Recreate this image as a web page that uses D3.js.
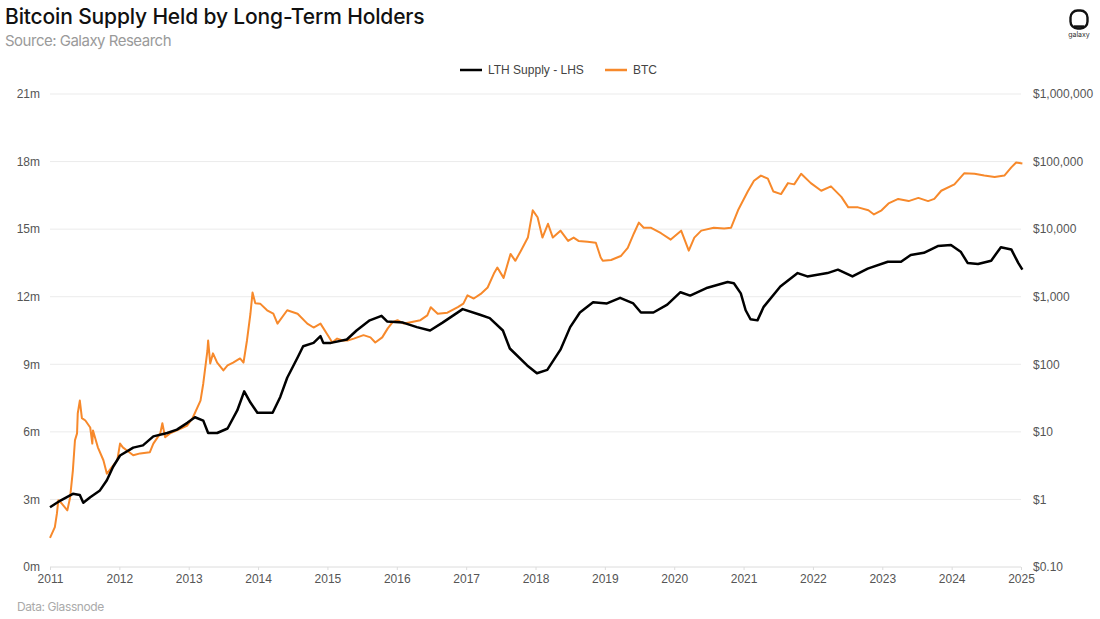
<!DOCTYPE html>
<html><head><meta charset="utf-8">
<script src="https://cdn.jsdelivr.net/npm/d3@7"></script>
<style>
body{margin:0;background:#fff;}
svg{display:block;}
</style></head>
<body>
<svg id="chart" width="1100" height="619"></svg>
<script>
// ---- data ----
const yearTicks = [2011,2012,2013,2014,2015,2016,2017,2018,2019,2020,2021,2022,2023,2024,2025];
const leftTicks = [0,3,6,9,12,15,18,21];
const leftTickLabels = ["0m","3m","6m","9m","12m","15m","18m","21m"];
const rightTicks = [0.1,1,10,100,1000,10000,100000,1000000];
const rightTickLabels = ["$0.10","$1","$10","$100","$1,000","$10,000","$100,000","$1,000,000"];
const seriesNames = ["LTH Supply - LHS","BTC"];

// LTH supply (millions BTC), decimal year
const lthYears = [2011.00,2011.15,2011.33,2011.43,2011.48,2011.58,2011.72,2011.82,2011.91,2012.01,2012.20,2012.34,2012.49,2012.69,2012.83,2012.98,2013.09,2013.21,2013.28,2013.41,2013.56,2013.70,2013.80,2013.89,2013.99,2014.21,2014.32,2014.42,2014.57,2014.65,2014.80,2014.90,2014.94,2015.05,2015.28,2015.42,2015.61,2015.78,2015.86,2016.09,2016.29,2016.48,2016.66,2016.95,2017.20,2017.34,2017.53,2017.63,2017.88,2018.02,2018.17,2018.36,2018.50,2018.64,2018.83,2019.03,2019.22,2019.41,2019.52,2019.70,2019.90,2020.09,2020.23,2020.48,2020.77,2020.86,2020.96,2021.03,2021.10,2021.20,2021.29,2021.53,2021.78,2021.92,2022.21,2022.36,2022.57,2022.79,2023.08,2023.27,2023.41,2023.60,2023.80,2023.99,2024.13,2024.23,2024.38,2024.57,2024.71,2024.86,2024.96,2025.02];
const lthValues = [2.65,2.95,3.25,3.2,2.85,3.1,3.4,3.85,4.45,4.95,5.3,5.4,5.8,5.95,6.1,6.4,6.65,6.5,5.95,5.95,6.15,6.95,7.8,7.3,6.85,6.85,7.55,8.4,9.3,9.8,9.95,10.25,9.95,9.95,10.1,10.5,10.95,11.15,10.9,10.85,10.65,10.5,10.85,11.45,11.2,11.05,10.5,9.7,8.95,8.6,8.75,9.65,10.65,11.3,11.75,11.7,11.95,11.7,11.3,11.3,11.65,12.2,12.05,12.4,12.65,12.6,12.15,11.4,11.0,10.95,11.55,12.45,13.05,12.9,13.05,13.2,12.9,13.25,13.55,13.55,13.85,13.95,14.25,14.3,14.0,13.5,13.45,13.6,14.2,14.1,13.5,13.2];

// BTC price (USD), decimal year
const btcYears = [2011.00,2011.07,2011.10,2011.12,2011.17,2011.25,2011.29,2011.33,2011.36,2011.39,2011.40,2011.43,2011.46,2011.51,2011.58,2011.61,2011.62,2011.69,2011.77,2011.82,2011.87,2011.97,2012.01,2012.05,2012.11,2012.20,2012.30,2012.44,2012.49,2012.59,2012.62,2012.66,2012.73,2012.83,2012.98,2013.06,2013.17,2013.21,2013.27,2013.28,2013.31,2013.35,2013.41,2013.50,2013.56,2013.64,2013.74,2013.79,2013.84,2013.89,2013.92,2013.96,2014.03,2014.13,2014.22,2014.28,2014.42,2014.57,2014.71,2014.80,2014.90,2015.01,2015.07,2015.14,2015.22,2015.29,2015.38,2015.52,2015.62,2015.69,2015.79,2015.87,2015.94,2016.01,2016.10,2016.20,2016.34,2016.44,2016.49,2016.59,2016.73,2016.88,2016.96,2017.02,2017.11,2017.21,2017.31,2017.40,2017.45,2017.54,2017.64,2017.71,2017.79,2017.89,2017.96,2018.03,2018.10,2018.18,2018.25,2018.36,2018.47,2018.55,2018.62,2018.75,2018.87,2018.94,2018.97,2019.09,2019.23,2019.33,2019.42,2019.49,2019.56,2019.66,2019.81,2019.95,2020.10,2020.21,2020.29,2020.39,2020.57,2020.72,2020.82,2020.92,2021.06,2021.15,2021.25,2021.35,2021.43,2021.54,2021.64,2021.73,2021.83,2021.97,2022.12,2022.26,2022.41,2022.51,2022.65,2022.80,2022.88,2022.99,2023.09,2023.23,2023.38,2023.52,2023.66,2023.75,2023.85,2024.04,2024.18,2024.33,2024.47,2024.62,2024.76,2024.86,2024.93,2025.02];
const btcValues = [0.27,0.39,0.62,0.97,0.87,0.69,1.07,2.7,7.5,9.5,18.7,29,16,14.7,11.6,6.7,10.5,5.9,3.8,2.4,2.8,3.8,6.7,5.9,5.3,4.5,4.8,5.0,6.7,9.5,13.4,8.3,9.5,10.5,12.4,16.3,29,52,160,225,103,145,106,81,96,106,122,106,225,560,1150,800,790,630,560,400,630,560,400,350,400,265,210,240,225,225,240,270,250,210,250,340,420,450,400,420,450,530,700,560,580,700,790,1050,940,1100,1370,2200,2700,1900,4300,3400,4800,7500,19000,15000,7500,12000,7500,9500,6700,7500,6700,6500,6300,3800,3400,3500,4000,5300,8700,12500,10500,10500,8700,7000,9500,4800,7500,9500,10500,10200,10500,19000,36000,52000,62000,56000,36000,33000,48000,46000,66000,48000,37000,43000,30000,21000,21000,19000,16500,19000,24000,28000,26000,29000,26000,28000,37000,46000,67000,66000,62000,59000,62000,82000,97000,94000];

// ---- layout ----
const svg = d3.select("#chart");
const plot = {left:50, right:1021, top:94, bottom:567};
const x = d3.scaleLinear().domain([2011,2025]).range([plot.left, plot.right]);
const yL = d3.scaleLinear().domain([0,21]).range([plot.bottom, plot.top]);
const yR = d3.scaleLog().domain([0.1,1000000]).range([plot.bottom, plot.top]);
const axisFont = "'Liberation Sans', Arial, sans-serif";

// gridlines
svg.append("g").selectAll("line").data(leftTicks).join("line")
  .attr("x1", plot.left).attr("x2", plot.right)
  .attr("y1", d=>yL(d)).attr("y2", d=>yL(d))
  .attr("stroke", d=> d===0 ? "#dcdcdc" : "#ebebeb").attr("stroke-width", 1);

// bottom axis
const xAxis = d3.axisBottom(x).tickValues(yearTicks).tickFormat(d3.format("d")).tickSize(3).tickPadding(4);
const gx = svg.append("g").attr("transform", `translate(0,${plot.bottom})`).call(xAxis);
gx.select(".domain").remove();
gx.selectAll(".tick line").attr("stroke","#dcdcdc");
gx.selectAll(".tick text").attr("fill","#555").style("font-family",axisFont).style("font-size","12px");

// left axis
const yAxisL = d3.axisLeft(yL).tickValues(leftTicks).tickFormat((d,i)=>leftTickLabels[i]).tickSize(0).tickPadding(10);
const gl = svg.append("g").attr("transform", `translate(${plot.left},0)`).call(yAxisL);
gl.select(".domain").remove();
gl.selectAll(".tick text").attr("fill","#555").style("font-family",axisFont).style("font-size","12px");

// right axis
const yAxisR = d3.axisRight(yR).tickValues(rightTicks).tickFormat((d,i)=>rightTickLabels[i]).tickSize(0).tickPadding(12);
const gr = svg.append("g").attr("transform", `translate(${plot.right},0)`).call(yAxisR);
gr.select(".domain").remove();
gr.selectAll(".tick text").attr("fill","#555").style("font-family",axisFont).style("font-size","12px");

// lines
const btcData = btcYears.map((t,i)=>({t, v: btcValues[i]}));
const lthData = lthYears.map((t,i)=>({t, v: lthValues[i]}));
svg.append("path").datum(btcData)
  .attr("fill","none").attr("stroke","#f7892b").attr("stroke-width",2).attr("stroke-linejoin","round")
  .attr("d", d3.line().x(d=>x(d.t)).y(d=>yR(d.v)));
svg.append("path").datum(lthData)
  .attr("fill","none").attr("stroke","#000").attr("stroke-width",2.5).attr("stroke-linejoin","round")
  .attr("d", d3.line().x(d=>x(d.t)).y(d=>yL(d.v)));

// legend
const legend = svg.append("g").style("font-family",axisFont).style("font-size","12px");
const legItems = [{name:seriesNames[0], color:"#000", x0:460},{name:seriesNames[1], color:"#f7892b", x0:605}];
legItems.forEach(it=>{
  legend.append("line").attr("x1",it.x0).attr("x2",it.x0+22).attr("y1",70).attr("y2",70)
    .attr("stroke",it.color).attr("stroke-width",2.5);
  legend.append("text").attr("x",it.x0+28).attr("y",74).attr("fill","#444").text(it.name);
});

// titles
const titleFont = "Inter, 'Noto Sans', sans-serif";
svg.append("text").attr("x",5).attr("y",24).attr("fill","#111")
  .style("font-family",titleFont).style("font-size","21px").style("font-weight","500").style("letter-spacing","-0.15px")
  .text("Bitcoin Supply Held by Long-Term Holders");
svg.append("text").attr("x",5).attr("y",46).attr("fill","#9a9a9a")
  .style("font-family",titleFont).style("font-size","15px").style("letter-spacing","-0.5px")
  .text("Source: Galaxy Research");
svg.append("text").attr("x",17).attr("y",611).attr("fill","#aaa")
  .style("font-family",titleFont).style("font-size","12px").style("letter-spacing","-0.4px")
  .text("Data: Glassnode");

// logo
const logo = svg.append("g").attr("transform","translate(1079,20)");
logo.append("rect").attr("x",-8.5).attr("y",-9.5).attr("width",17).attr("height",18).attr("rx",7)
  .attr("fill","none").attr("stroke","#111").attr("stroke-width",2.4);
logo.append("line").attr("x1",-5).attr("x2",5).attr("y1",6.5).attr("y2",6.5).attr("stroke","#111").attr("stroke-width",2.4);
logo.append("text").attr("x",0).attr("y",17).attr("text-anchor","middle").attr("fill","#333")
  .style("font-family",titleFont).style("font-size","7px").text("galaxy");
</script>
</body></html>
